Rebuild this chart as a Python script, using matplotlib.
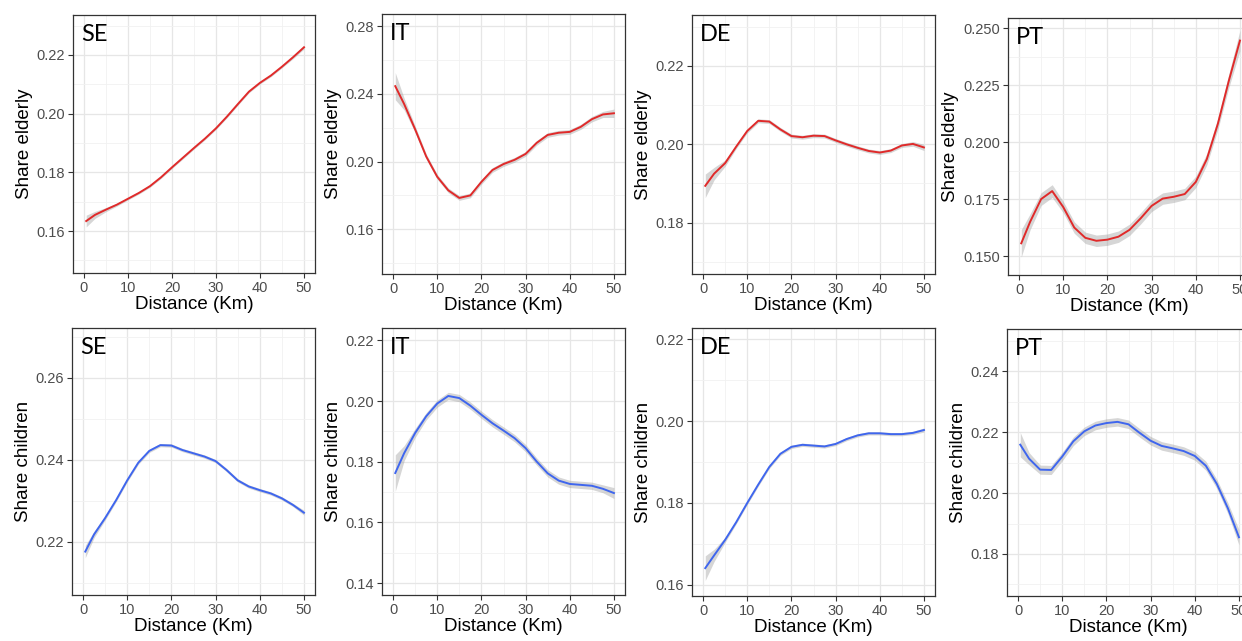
import matplotlib
matplotlib.use("Agg")
import matplotlib.pyplot as plt
import numpy as np

# --- data ----------------------------------------------------------------
dist_km = [0.5, 2.5, 5, 7.5, 10, 12.5, 15, 17.5, 20, 22.5, 25,
           27.5, 30, 32.5, 35, 37.5, 40, 42.5, 45, 47.5, 50]

se_elderly = [0.1634, 0.1655, 0.1673, 0.1690, 0.1710, 0.1730, 0.1753, 0.1783, 0.1817, 0.1850, 0.1883,
              0.1915, 0.1950, 0.1990, 0.2033, 0.2075, 0.2105, 0.2130, 0.2160, 0.2192, 0.2226]
it_elderly = [0.2445, 0.2340, 0.2190, 0.2030, 0.1910, 0.1830, 0.1785, 0.1800, 0.1880, 0.1950, 0.1985,
              0.2010, 0.2045, 0.2110, 0.2157, 0.2170, 0.2175, 0.2205, 0.2250, 0.2278, 0.2285]
de_elderly = [0.1894, 0.1925, 0.1952, 0.1994, 0.2034, 0.2060, 0.2058, 0.2038, 0.2021, 0.2018, 0.2022,
              0.2021, 0.2010, 0.2000, 0.1991, 0.1983, 0.1979, 0.1984, 0.1997, 0.2001, 0.1992]
pt_elderly = [0.1556, 0.1650, 0.1750, 0.1785, 0.1715, 0.1625, 0.1580, 0.1567, 0.1572, 0.1585, 0.1615,
              0.1665, 0.1720, 0.1752, 0.1760, 0.1772, 0.1825, 0.1925, 0.2080, 0.2270, 0.2445]

se_children = [0.2176, 0.2218, 0.2258, 0.2302, 0.2350, 0.2393, 0.2422, 0.2436, 0.2435, 0.2424, 0.2416,
               0.2408, 0.2397, 0.2375, 0.2350, 0.2335, 0.2326, 0.2318, 0.2306, 0.2290, 0.2271]
it_children = [0.1763, 0.1828, 0.1895, 0.1950, 0.1992, 0.2017, 0.2010, 0.1985, 0.1955, 0.1927, 0.1903,
               0.1878, 0.1845, 0.1801, 0.1762, 0.1738, 0.1727, 0.1724, 0.1721, 0.1711, 0.1697]
de_children = [0.1641, 0.1672, 0.1710, 0.1753, 0.1800, 0.1845, 0.1888, 0.1920, 0.1937, 0.1942, 0.1940,
               0.1938, 0.1944, 0.1956, 0.1965, 0.1970, 0.1970, 0.1968, 0.1968, 0.1971, 0.1978]
pt_children = [0.2159, 0.2113, 0.2077, 0.2076, 0.2120, 0.2170, 0.2203, 0.2222, 0.2230, 0.2234, 0.2226,
               0.2198, 0.2172, 0.2155, 0.2147, 0.2138, 0.2122, 0.2090, 0.2030, 0.1950, 0.1855]

# half-width of the confidence ribbon
se_elderly_ci = [0.0020, 0.0012, 0.0007, 0.0005, 0.0004, 0.0004, 0.0004, 0.0004, 0.0004, 0.0004, 0.0004,
                 0.0004, 0.0004, 0.0004, 0.0004, 0.0004, 0.0004, 0.0004, 0.0004, 0.0005, 0.0006]
it_elderly_ci = [0.0080, 0.0035, 0.0020, 0.0015, 0.0014, 0.0014, 0.0014, 0.0014, 0.0014, 0.0014, 0.0014,
                 0.0014, 0.0014, 0.0014, 0.0014, 0.0014, 0.0014, 0.0015, 0.0016, 0.0018, 0.0025]
de_elderly_ci = [0.0030, 0.0016, 0.0008, 0.0005, 0.0005, 0.0005, 0.0005, 0.0005, 0.0005, 0.0005, 0.0005,
                 0.0005, 0.0005, 0.0005, 0.0005, 0.0005, 0.0005, 0.0005, 0.0005, 0.0006, 0.0008]
pt_elderly_ci = [0.0060, 0.0035, 0.0028, 0.0028, 0.0025, 0.0025, 0.0025, 0.0025, 0.0025, 0.0025, 0.0025,
                 0.0025, 0.0025, 0.0025, 0.0025, 0.0025, 0.0025, 0.0025, 0.0025, 0.0030, 0.0045]
se_children_ci = [0.0015, 0.0008, 0.0005, 0.0004, 0.0004, 0.0004, 0.0004, 0.0004, 0.0004, 0.0004, 0.0004,
                  0.0004, 0.0004, 0.0004, 0.0004, 0.0004, 0.0004, 0.0004, 0.0004, 0.0004, 0.0006]
it_children_ci = [0.0060, 0.0025, 0.0015, 0.0012, 0.0012, 0.0012, 0.0012, 0.0012, 0.0012, 0.0012, 0.0012,
                  0.0012, 0.0012, 0.0012, 0.0012, 0.0012, 0.0012, 0.0012, 0.0012, 0.0013, 0.0018]
de_children_ci = [0.0030, 0.0015, 0.0006, 0.0004, 0.0004, 0.0004, 0.0004, 0.0004, 0.0004, 0.0004, 0.0004,
                  0.0004, 0.0004, 0.0004, 0.0004, 0.0004, 0.0004, 0.0004, 0.0004, 0.0004, 0.0005]
pt_children_ci = [0.0040, 0.0020, 0.0015, 0.0015, 0.0014, 0.0014, 0.0014, 0.0014, 0.0014, 0.0014, 0.0014,
                  0.0014, 0.0014, 0.0014, 0.0014, 0.0014, 0.0014, 0.0015, 0.0015, 0.0018, 0.0025]

x_ticks = [0, 10, 20, 30, 40, 50]

# --- layout: (name, series, ci, color, ylabel, yticks, fmt, ylim, box px l,r,t,b)
RED = "#E02A2A"
BLUE = "#3F66EE"
W, H = 1242, 641
panels = [
    ("SE", se_elderly, se_elderly_ci, RED, "Share elderly", [0.16, 0.18, 0.20, 0.22], "%.2f",
     (0.1457, 0.2336), (73, 315, 15, 273)),
    ("IT", it_elderly, it_elderly_ci, RED, "Share elderly", [0.16, 0.20, 0.24, 0.28], "%.2f",
     (0.1336, 0.2871), (382, 625, 14, 274)),
    ("DE", de_elderly, de_elderly_ci, RED, "Share elderly", [0.18, 0.20, 0.22], "%.2f",
     (0.1669, 0.2330), (692, 935, 15, 274)),
    ("PT", pt_elderly, pt_elderly_ci, RED, "Share elderly", [0.150, 0.175, 0.200, 0.225, 0.250], "%.3f",
     (0.1417, 0.2544), (1008, 1251, 18, 275)),
    ("SE", se_children, se_children_ci, BLUE, "Share children", [0.22, 0.24, 0.26], "%.2f",
     (0.2070, 0.2722), (72, 315, 328, 595)),
    ("IT", it_children, it_children_ci, BLUE, "Share children", [0.14, 0.16, 0.18, 0.20, 0.22], "%.2f",
     (0.1361, 0.2241), (382, 625, 328, 595)),
    ("DE", de_children, de_children_ci, BLUE, "Share children", [0.16, 0.18, 0.20, 0.22], "%.2f",
     (0.1573, 0.2227), (692, 935, 328, 596)),
    ("PT", pt_children, pt_children_ci, BLUE, "Share children", [0.18, 0.20, 0.22, 0.24], "%.2f",
     (0.1662, 0.2539), (1007, 1250, 329, 596)),
]

plt.rcParams["font.family"] = ["Liberation Sans", "DejaVu Sans"]
fig = plt.figure(figsize=(W / 100, H / 100), dpi=100)

x = np.array(dist_km)
for name, ys, ci, col, ylab, yt, fmt, ylim, (l, r, t, b) in panels:
    ax = fig.add_axes([l / W, 1 - b / H, (r - l) / W, (b - t) / H])
    ys = np.array(ys)
    ci = np.array(ci)
    ax.fill_between(x, ys - ci, ys + ci, color="#999999", alpha=0.4, lw=0, zorder=2)
    ax.plot(x, ys, color=col, lw=1.4, zorder=3, solid_joinstyle="round")

    ax.set_xlim(-2.5, 52.5)
    ax.set_ylim(*ylim)
    ax.set_xticks(x_ticks)
    ax.set_xticks([5, 15, 25, 35, 45], minor=True)
    ax.set_yticks(yt)
    ax.set_yticklabels([fmt % v for v in yt])
    # ggplot-style minor grid halfway between major ticks
    ymin = [(a + c) / 2 for a, c in zip(yt[:-1], yt[1:])]
    step = yt[1] - yt[0]
    if yt[0] - step / 2 > ylim[0]:
        ymin.insert(0, yt[0] - step / 2)
    if yt[-1] + step / 2 < ylim[1]:
        ymin.append(yt[-1] + step / 2)
    ax.set_yticks(ymin, minor=True)

    ax.grid(which="major", color="#E6E6E6", lw=0.9, zorder=0)
    ax.grid(which="minor", color="#F1F1F1", lw=0.6, zorder=0)
    ax.set_axisbelow(True)
    ax.tick_params(which="minor", length=0)
    ax.tick_params(which="major", length=3.5, width=0.8, color="#333333",
                   labelcolor="#4D4D4D", labelsize=10.5, pad=2)
    for sp in ax.spines.values():
        sp.set_color("#333333")
        sp.set_linewidth(0.9)

    ax.set_xlabel("Distance (Km)", fontsize=13.5, labelpad=1)
    ax.set_ylabel(ylab, fontsize=13.5, labelpad=3)
    ax.text(8 / (r - l), 1 - 9 / (b - t), name, transform=ax.transAxes,
            ha="left", va="top", fontsize=17, family=["Lato", "DejaVu Sans"])

fig.savefig("out.png", dpi=100)
